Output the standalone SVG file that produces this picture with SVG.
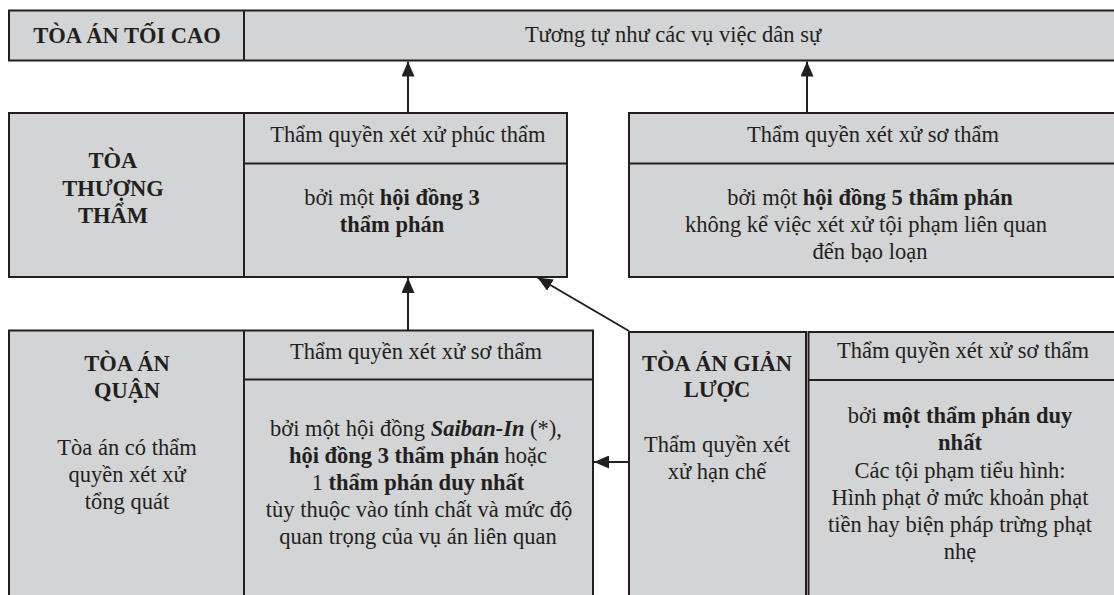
<svg xmlns="http://www.w3.org/2000/svg" width="1114" height="595" viewBox="0 0 1114 595">
  <defs>
    <style>
      .box { fill: #d3d4d6; stroke: #231f20; stroke-width: 2; }
      .rule { stroke: #231f20; stroke-width: 2; fill: none; }
      .conn { stroke: #231f20; stroke-width: 2; fill: none; marker-end: url(#head); }
      text { font-family: "Liberation Serif", "Times New Roman", serif; font-size: 22.5px; fill: #231f20; text-anchor: middle; }
      .b { font-weight: bold; }
      .bi { font-weight: bold; font-style: italic; }
    </style>
    <marker id="head" markerUnits="userSpaceOnUse" markerWidth="15" markerHeight="13" refX="15" refY="6.5" orient="auto">
      <path d="M0,0 L15,6.5 L0,13 Z" fill="#231f20"/>
    </marker>
  </defs>

  <rect width="1114" height="595" fill="#ffffff"/>

  <!-- Connectors -->
  <g id="connectors">
    <line class="conn" x1="408" y1="113" x2="408" y2="61.5"/>
    <line class="conn" x1="807" y1="113" x2="807" y2="61.5"/>
    <line class="conn" x1="408" y1="330.5" x2="408" y2="278"/>
    <line class="conn" x1="629" y1="331" x2="537.5" y2="277.5"/>
    <line class="conn" x1="629" y1="462" x2="594" y2="462"/>
  </g>

  <!-- Supreme Court -->
  <g id="supreme-court">
    <rect class="box" x="9" y="10.5" width="1120" height="50"/>
    <line class="rule" x1="244" y1="10.5" x2="244" y2="60.5"/>
    <text class="b" x="127" y="42.5">TÒA ÁN TỐI CAO</text>
    <text x="673" y="42">Tương tự như các vụ việc dân sự</text>
  </g>

  <!-- High Court: appellate jurisdiction -->
  <g id="high-court">
    <rect class="box" x="9" y="113" width="558" height="164"/>
    <line class="rule" x1="244" y1="113" x2="244" y2="277"/>
    <line class="rule" x1="244" y1="163.5" x2="567" y2="163.5"/>
    <text class="b" x="113" y="168">TÒA</text>
    <text class="b" x="113" y="196">THƯỢNG</text>
    <text class="b" x="113" y="223">THẨM</text>
    <text x="408" y="141.5">Thẩm quyền xét xử phúc thẩm</text>
    <text x="392" y="205">bởi một <tspan class="b">hội đồng 3</tspan></text>
    <text class="b" x="392" y="232">thẩm phán</text>
  </g>

  <!-- High Court: first-instance jurisdiction -->
  <g id="high-court-first-instance">
    <rect class="box" x="629" y="113" width="500" height="164"/>
    <line class="rule" x1="629" y1="163.5" x2="1129" y2="163.5"/>
    <text x="873" y="141.5">Thẩm quyền xét xử sơ thẩm</text>
    <text x="870" y="205">bởi một <tspan class="b">hội đồng 5 thẩm phán</tspan></text>
    <text x="866" y="232">không kể việc xét xử tội phạm liên quan</text>
    <text x="870" y="259">đến bạo loạn</text>
  </g>

  <!-- District Court -->
  <g id="district-court">
    <rect class="box" x="9" y="330.5" width="584" height="300"/>
    <line class="rule" x1="244" y1="330.5" x2="244" y2="630"/>
    <line class="rule" x1="244" y1="379.5" x2="593" y2="379.5"/>
    <text class="b" x="127" y="371">TÒA ÁN</text>
    <text class="b" x="127" y="398">QUẬN</text>
    <text x="127" y="455">Tòa án có thẩm</text>
    <text x="127" y="482">quyền xét xử</text>
    <text x="127" y="509">tổng quát</text>
    <text x="416" y="359">Thẩm quyền xét xử sơ thẩm</text>
    <text x="416" y="436">bởi một hội đồng <tspan class="bi">Saiban-In</tspan> (*),</text>
    <text x="418" y="463"><tspan class="b">hội đồng 3 thẩm phán</tspan> hoặc</text>
    <text x="418" y="490">1 <tspan class="b">thẩm phán duy nhất</tspan></text>
    <text x="419" y="517">tùy thuộc vào tính chất và mức độ</text>
    <text x="418" y="544">quan trọng của vụ án liên quan</text>
  </g>

  <!-- Summary Court -->
  <g id="summary-court">
    <rect class="box" x="629" y="332" width="177" height="300"/>
    <rect class="box" x="808.5" y="332" width="320" height="300"/>
    <line class="rule" x1="808.5" y1="380" x2="1129" y2="380"/>
    <text class="b" x="717" y="371">TÒA ÁN GIẢN</text>
    <text class="b" x="717" y="397">LƯỢC</text>
    <text x="717" y="452">Thẩm quyền xét</text>
    <text x="717" y="479">xử hạn chế</text>
    <text x="963" y="358">Thẩm quyền xét xử sơ thẩm</text>
    <text x="960" y="423">bởi <tspan class="b">một thẩm phán duy</tspan></text>
    <text class="b" x="960" y="450">nhất</text>
    <text x="960" y="478">Các tội phạm tiểu hình:</text>
    <text x="960" y="505">Hình phạt ở mức khoản phạt</text>
    <text x="960" y="532">tiền hay biện pháp trừng phạt</text>
    <text x="960" y="559">nhẹ</text>
  </g>
</svg>
